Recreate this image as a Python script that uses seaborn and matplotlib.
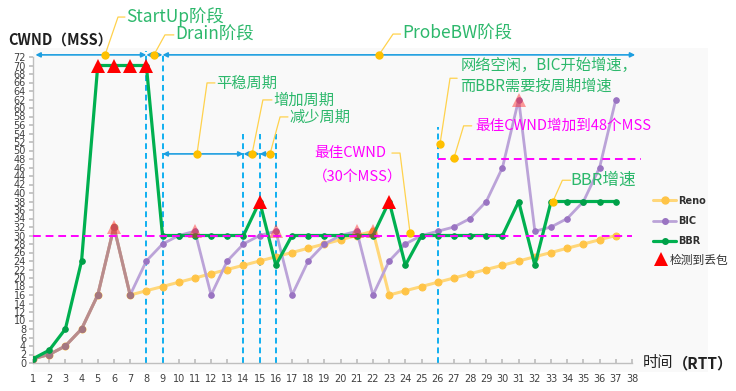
import numpy as np
import pandas as pd
import matplotlib.pyplot as plt
import seaborn as sns
from matplotlib.lines import Line2D
from matplotlib.patches import Rectangle

# data
rtt = list(range(1, 38))
reno = [1, 2, 4, 8, 16, 32, 16,
        17, 18, 19, 20, 21, 22, 23, 24, 25, 26, 27, 28, 29, 30, 31,
        16, 17, 18, 19, 20, 21, 22, 23, 24, 25, 26, 27, 28, 29, 30]
bic = [1, 2, 4, 8, 16, 32, 16,
       24, 28, 30, 31,
       16, 24, 28, 30, 31,
       16, 24, 28, 30, 31,
       16, 24, 28, 30, 31,
       32, 34, 38, 46, 62,
       31, 32, 34, 38, 46, 62]
bbr = [1, 3, 8, 24, 70, 70, 70, 70,
       30, 30, 30, 30, 30, 30, 38, 23,
       30, 30, 30, 30, 30, 30, 38, 23,
       30, 30, 30, 30, 30, 30, 38, 23,
       38, 38, 38, 38, 38]
bbr_loss_x = [5, 6, 7, 8, 15, 23]
bbr_loss_y = [70, 70, 70, 70, 38, 38]
other_loss_x = [6, 11, 16, 21, 22, 31]
other_loss_y = [32, 31, 31, 31, 31, 62]
shared_end = 7            # Reno and BIC coincide up to here
best_cwnd = 30
best_cwnd_2 = 48
phase_x = [8, 9, 14, 15, 16, 26]
x_ticks = list(range(1, 39))
y_ticks = list(range(0, 73, 2))

df = pd.DataFrame({'RTT': rtt, 'Reno': reno, 'BIC': bic, 'BBR': bbr})

sns.set_theme(style='white')
plt.rcParams['font.family'] = ['Noto Sans CJK SC', 'DejaVu Sans']

fig = plt.figure(figsize=(7.36, 3.91), dpi=100)
bg = Rectangle((33 / 736, 1 - 372 / 391), (708 - 33) / 736, (372 - 48) / 391,
               transform=fig.transFigure, facecolor='#F9F9F9', edgecolor='none', zorder=-10)
fig.patches.append(bg)
ax = fig.add_axes([33 / 736, 1 - 363 / 391, 599 / 736, 306 / 391])
ax.patch.set_alpha(0)

c_reno, c_reno_m = '#FFD77A', '#FFC447'
c_bic, c_bic_m = '#BBA3D8', '#9A74C2'
c_bbr = '#00B050'
c_blue = '#1E9FE0'
c_dash = '#10B0F0'
c_mag = '#FF00FF'
c_green_txt = '#2DB86C'
c_lead = '#FFD24D'
c_dot = '#FFC000'

sns.lineplot(data=df, x='RTT', y='Reno', ax=ax, color=c_reno, lw=2.2, marker='o', ms=5,
             markerfacecolor=c_reno_m, markeredgecolor=c_reno_m, zorder=2)
sns.lineplot(data=df, x='RTT', y='BIC', ax=ax, color=c_bic, lw=2.0, marker='o', ms=4,
             markerfacecolor=c_bic_m, markeredgecolor=c_bic_m, zorder=3)
shared = df[df['RTT'] <= shared_end]
sns.lineplot(data=shared, x='RTT', y='BIC', ax=ax, color='#B98C8C', lw=2.2, marker='o', ms=4.5,
             markerfacecolor='#A47780', markeredgecolor='#A47780', zorder=3.5)
sns.lineplot(data=df, x='RTT', y='BBR', ax=ax, color=c_bbr, lw=2.3, marker='o', ms=4,
             markerfacecolor='#00A048', markeredgecolor='#00A048', zorder=4)

# loss markers
ax.plot(other_loss_x, other_loss_y, ls='none', marker='^', ms=10, color='#FF2020', alpha=0.45,
        markeredgewidth=0, zorder=5)
ax.plot(bbr_loss_x, bbr_loss_y, ls='none', marker='^', ms=10, color='#FF0000',
        markeredgewidth=0, zorder=6, clip_on=False)

# best cwnd lines
ax.plot([1, 38], [best_cwnd, best_cwnd], color=c_mag, ls=(0, (4, 2.5)), lw=1.4, zorder=5.5, clip_on=False)
ax.plot([phase_x[-1], 38.55], [best_cwnd_2, best_cwnd_2], color=c_mag, ls=(0, (4, 2.5)), lw=1.4,
        zorder=5.5, clip_on=False)

# phase boundaries
tops = [73.5, 72.5, 54, 54, 54, 55.5]
for px, top in zip(phase_x, tops):
    ax.plot([px, px], [0, top], color=c_dash, ls=(0, (3, 2)), lw=1.4, zorder=1.5, clip_on=False)


def harrow(x0, x1, y):
    ax.annotate('', xy=(x1, y), xytext=(x0, y), annotation_clip=False,
                arrowprops=dict(arrowstyle='<|-|>', color=c_blue, lw=1.2, shrinkA=0, shrinkB=0,
                                mutation_scale=7))


harrow(1.15, 8, 72.5)
harrow(8, 9, 72.5)
harrow(9, 38.2, 72.5)
harrow(9, 14, 49.2)
harrow(14, 15, 49.2)
harrow(15, 16, 49.2)


def callout(dot, corner, end, text, tx, ty, color, size):
    xs = [dot[0], corner[0], end[0]]
    ys = [dot[1], corner[1], end[1]]
    ax.plot(xs, ys, color=c_lead, lw=0.9, zorder=7, clip_on=False)
    ax.plot([dot[0]], [dot[1]], 'o', ms=5, color=c_dot, zorder=8, clip_on=False)
    ax.text(tx, ty, text, color=color, fontsize=size, va='center', ha='left', zorder=8, clip_on=False)


callout((5.45, 72.5), (6.25, 81.4), (6.68, 81.4), 'StartUp阶段', 6.74, 81.4, c_green_txt, 12.5)
callout((8.47, 72.5), (9.15, 77.2), (9.7, 77.2), 'Drain阶段', 9.8, 77.2, c_green_txt, 12.5)
callout((22.37, 72.5), (23.24, 77.4), (23.7, 77.4), 'ProbeBW阶段', 23.8, 77.4, c_green_txt, 12.5)
callout((11.13, 49.2), (11.75, 65.9), (12.24, 65.9), '平稳周期', 12.3, 65.9, c_green_txt, 11)
callout((14.53, 49.2), (15.2, 61.9), (15.76, 61.9), '增加周期', 15.85, 61.9, c_green_txt, 11)
callout((15.64, 49.2), (16.26, 57.9), (16.75, 57.9), '减少周期', 16.85, 57.9, c_green_txt, 11)
callout((24.29, 30.6), (23.67, 49.4), (23.17, 49.4), '最佳CWND', 18.36, 49.4, c_mag, 10.5)
ax.text(18.3, 43.8, '（30个MSS）', color=c_mag, fontsize=10.5, va='center', ha='left')
callout((26.14, 51.5), (26.76, 67), (27.2, 67), '网络空闲，BIC开始增速，', 27.4, 70.1, c_green_txt, 11)
ax.text(27.4, 65.2, '而BBR需要按周期增速', color=c_green_txt, fontsize=11, va='center', ha='left')
callout((27.0, 48.2), (27.6, 55.8), (28.1, 55.8), '最佳CWND增加到48个MSS', 28.3, 55.8, c_mag, 10.5)
callout((33.1, 37.9), (33.7, 43), (34.2, 43), 'BBR增速', 34.2, 43, c_green_txt, 12)

# axes styling
ax.set_xlim(1, 38)
ax.set_ylim(0, 72)
ax.set_xticks(x_ticks)
ax.set_yticks(y_ticks)
ax.tick_params(axis='x', labelsize=7, direction='in', length=3, color='#BFBFBF', pad=8,
               labelcolor='#404040', bottom=True)
ax.tick_params(axis='y', labelsize=7, direction='out', length=3, color='#BFBFBF', pad=2,
               labelcolor='#404040', left=True)
for lbl in ax.get_xticklabels() + ax.get_yticklabels():
    lbl.set_family('DejaVu Sans')
ax.set_xlabel('')
ax.set_ylabel('')
for s in ['top', 'right']:
    ax.spines[s].set_visible(False)
for s in ['left', 'bottom']:
    ax.spines[s].set_color('#BFBFBF')
    ax.spines[s].set_linewidth(1)

fig.text(8 / 736, 1 - 40 / 391, 'CWND（MSS）', fontsize=10.5, fontweight='bold', va='center', color='#202020')
fig.text(643 / 736, 1 - 363 / 391, '时间', fontsize=11, va='center', color='#202020')
fig.text(673 / 736, 1 - 363 / 391, '（RTT）', fontsize=11, fontweight='bold', va='center', color='#202020')

# legend: three series, then the loss marker entry placed by hand
handles = [
    Line2D([0], [0], color=c_reno, lw=2.2, marker='o', ms=5, markerfacecolor=c_reno_m, markeredgecolor=c_reno_m),
    Line2D([0], [0], color=c_bic, lw=2.0, marker='o', ms=4, markerfacecolor=c_bic_m, markeredgecolor=c_bic_m),
    Line2D([0], [0], color=c_bbr, lw=2.3, marker='o', ms=4, markerfacecolor='#00A048', markeredgecolor='#00A048'),
]
leg = fig.legend(handles, ['Reno', 'BIC', 'BBR'], loc='upper left',
                 bbox_to_anchor=(648 / 736, 1 - 191 / 391), frameon=False, fontsize=7,
                 handlelength=2.4, handletextpad=0.2, labelspacing=1.05, borderpad=0)
for t in leg.get_texts():
    t.set_color('#303030')
    t.set_family('DejaVu Sans')
    t.set_fontweight('bold')
fig.add_artist(Line2D([661 / 736], [1 - 259 / 391], ls='none', marker='^', ms=10, color='#FF0000',
                      markeredgewidth=0, transform=fig.transFigure))
fig.text(670 / 736, 1 - 260 / 391, '检测到丢包', fontsize=8.5, va='center', color='#303030')

fig.savefig('out.png', dpi=100)
